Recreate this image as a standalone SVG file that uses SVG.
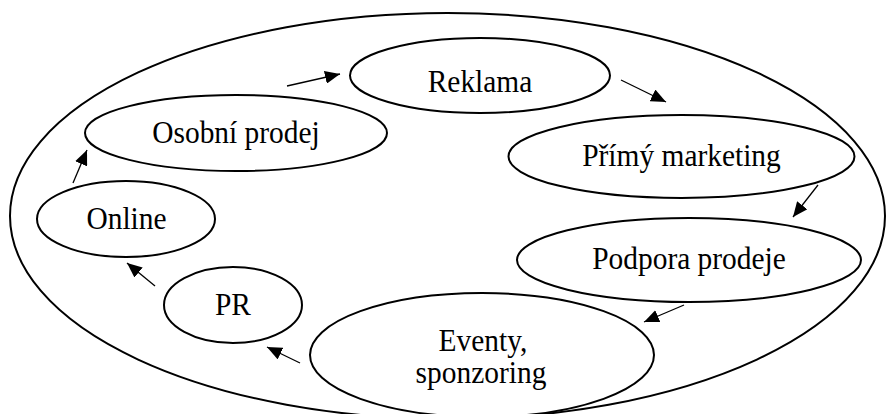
<svg xmlns="http://www.w3.org/2000/svg" width="887" height="414" viewBox="0 0 887 414">
  <style>
    .node { fill: #ffffff; stroke: #000000; stroke-width: 2; }
    .outer { fill: #ffffff; stroke: #000000; stroke-width: 2; }
    .label { font-family: 'Liberation Serif', 'Times New Roman', Times, serif; font-size: 32px; fill: #000000; text-anchor: middle; }
    .conn { stroke: #000000; stroke-width: 1.3; fill: none; marker-end: url(#arrow); }
  </style>
  <defs>
    <marker id="arrow" markerUnits="userSpaceOnUse" markerWidth="16" markerHeight="13" refX="15" refY="6.5" orient="auto">
      <path d="M0,0 L15,6.5 L0,13 z" fill="#000000"/>
    </marker>
  </defs>
  <rect width="887" height="414" fill="#ffffff"/>
  <g id="outer">
    <ellipse class="outer" cx="447.5" cy="216" rx="437.5" ry="203"/>
  </g>
  <g id="reklama">
    <ellipse class="node" cx="480" cy="75.5" rx="130" ry="37.5"/>
    <text class="label" transform="translate(480,92) scale(0.92,1)">Reklama</text>
  </g>
  <g id="primy-marketing">
    <ellipse class="node" cx="681.5" cy="156.5" rx="173" ry="41.5"/>
    <text class="label" transform="translate(681.5,166) scale(0.92,1)">Přímý marketing</text>
  </g>
  <g id="podpora-prodeje">
    <ellipse class="node" cx="689" cy="260" rx="172" ry="42"/>
    <text class="label" transform="translate(689,269) scale(0.92,1)">Podpora prodeje</text>
  </g>
  <g id="eventy">
    <ellipse class="node" cx="482" cy="355" rx="172" ry="62"/>
    <text class="label" transform="translate(483,351) scale(0.92,1)">Eventy,</text>
    <text class="label" transform="translate(481,383) scale(0.92,1)">sponzoring</text>
  </g>
  <g id="pr">
    <ellipse class="node" cx="233" cy="305" rx="69" ry="38"/>
    <text class="label" transform="translate(233,315) scale(0.92,1)">PR</text>
  </g>
  <g id="online">
    <ellipse class="node" cx="126" cy="219" rx="89" ry="38"/>
    <text class="label" transform="translate(126.5,229) scale(0.92,1)">Online</text>
  </g>
  <g id="osobni-prodej">
    <ellipse class="node" cx="236" cy="133" rx="151" ry="38"/>
    <text class="label" transform="translate(236,143) scale(0.92,1)">Osobní prodej</text>
  </g>
  <g id="connectors">
    <line class="conn" x1="287" y1="86" x2="340" y2="74"/>
    <line class="conn" x1="621" y1="80" x2="666" y2="102"/>
    <line class="conn" x1="818" y1="185" x2="793" y2="217"/>
    <line class="conn" x1="684" y1="305" x2="644" y2="322"/>
    <line class="conn" x1="300" y1="363" x2="267" y2="347"/>
    <line class="conn" x1="155" y1="286" x2="127" y2="263"/>
    <line class="conn" x1="73" y1="183" x2="87" y2="150"/>
  </g>
</svg>
